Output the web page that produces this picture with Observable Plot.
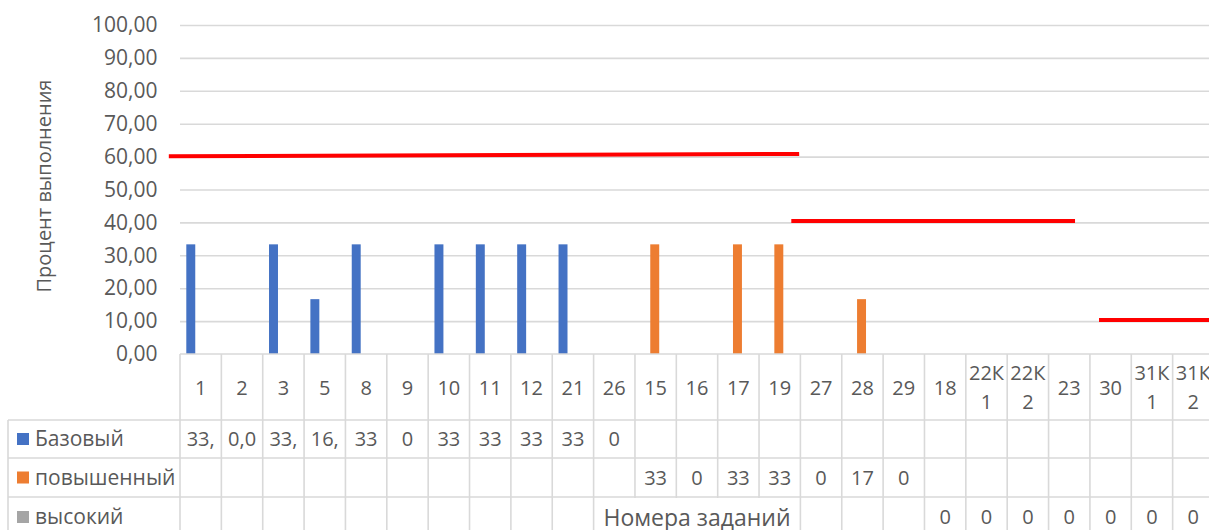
<!DOCTYPE html>
<html>
<head>
<meta charset="utf-8">
<script src="https://cdn.jsdelivr.net/npm/d3@7"></script>
<script src="https://cdn.jsdelivr.net/npm/@observablehq/plot@0.6"></script>
<style>
  html, body { margin: 0; padding: 0; overflow: hidden; background: #fff; }
  #chart svg { max-width: none !important; display: block; }
</style>
</head>
<body>
<div id="chart"></div>
<script>
// ---------- data ----------
const categories = ["1","2","3","5","8","9","10","11","12","21","26","15","16","17","19","27","28","29","18","22К1","22К2","23","30","31К1","31К2"];

const seriesNames = ["Базовый", "повышенный", "высокий"];
const seriesColors = ["#4472C4", "#ED7D31", "#A5A5A5"];

const baseCats   = ["1","2","3","5","8","9","10","11","12","21","26"];
const baseValues = [33.33, 0, 33.33, 16.67, 33.33, 0, 33.33, 33.33, 33.33, 33.33, 0];
const baseLabels = ["33,", "0,0", "33,", "16,", "33", "0", "33", "33", "33", "33", "0"];

const advCats   = ["15","16","17","19","27","28","29"];
const advValues = [33.33, 0, 33.33, 33.33, 0, 16.67, 0];
const advLabels = ["33", "0", "33", "33", "0", "17", "0"];

const highCats   = ["18","22К1","22К2","23","30","31К1","31К2"];
const highValues = [0, 0, 0, 0, 0, 0, 0];
const highLabels = ["0", "0", "0", "0", "0", "0", "0"];

const yTicks = [0, 10, 20, 30, 40, 50, 60, 70, 80, 90, 100];

// red threshold segments: start/end category with fraction of band, start/end value
const thresholdFrom     = ["1", "19", "30"];
const thresholdFromFrac = [-0.27, 0.78, 0.22];
const thresholdTo       = ["19", "23", "31К2"];
const thresholdToFrac   = [0.97, 0.64, 1.0];
const thresholdStart    = [60.1, 40.4, 10.3];
const thresholdEnd      = [60.8, 40.4, 10.3];

const yTitle = "Процент выполнения";
const xTitle = "Номера заданий";

// ---------- layout ----------
const W = 1214, H = 530, ML = 180, MT = 25, MB = 176;
const textColor = "#595959", gridColor = "#d9d9d9";
const font = "'Open Sans', 'Noto Sans', sans-serif";

const seriesRows = [
  {cats: baseCats, values: baseValues, labels: baseLabels},
  {cats: advCats, values: advValues, labels: advLabels},
  {cats: highCats, values: highValues, labels: highLabels}
];

const barData = seriesRows.map(r => r.cats.map((c, i) => ({cat: c, value: r.values[i]})));

const thresholds = thresholdFrom.map((f, i) => ({
  from: f, fromFrac: thresholdFromFrac[i], to: thresholdTo[i], toFrac: thresholdToFrac[i],
  start: thresholdStart[i], end: thresholdEnd[i]
}));

function wrapLabel(s) { return s.length > 3 ? [s.slice(0, 3), s.slice(3)] : [s]; }

function thresholdMark(index, scales) {
  const x = scales.x, y = scales.y, bw = x.bandwidth();
  const g = d3.create("svg:g");
  for (const t of thresholds) {
    g.append("line")
      .attr("x1", x(t.from) + t.fromFrac * bw).attr("x2", x(t.to) + t.toFrac * bw)
      .attr("y1", y(t.start)).attr("y2", y(t.end))
      .attr("stroke", "#FF0000").attr("stroke-width", 4);
  }
  return g.node();
}

function tableMark(index, scales) {
  const x = scales.x, y = scales.y, bw = x.bandwidth();
  const y0 = y(0);
  const x0 = x(categories[0]);
  const xEnd = x(categories[categories.length - 1]) + bw;
  const leftEdge = 8;
  const rowLines = [y0 + 66, y0 + 104, y0 + 143];
  const rowMid = [y0 + 85, y0 + 123.5, y0 + 163];
  const g = d3.create("svg:g").attr("font-family", font).attr("font-size", 20)
    .attr("fill", textColor).attr("text-anchor", "middle");
  const lines = g.append("g").attr("stroke", gridColor).attr("stroke-width", 1.6);
  // top line (axis)
  lines.append("line").attr("x1", x0).attr("x2", xEnd).attr("y1", y0).attr("y2", y0);
  for (const ry of rowLines) lines.append("line").attr("x1", leftEdge).attr("x2", xEnd).attr("y1", ry).attr("y2", ry);
  for (const c of categories) lines.append("line").attr("x1", x(c)).attr("x2", x(c)).attr("y1", y0).attr("y2", H);
  lines.append("line").attr("x1", xEnd).attr("x2", xEnd).attr("y1", y0).attr("y2", H);
  lines.append("line").attr("x1", leftEdge).attr("x2", leftEdge).attr("y1", rowLines[0]).attr("y2", H);

  // category labels
  for (const c of categories) {
    const parts = wrapLabel(c);
    const cx = x(c) + bw / 2;
    if (parts.length === 1) {
      g.append("text").attr("x", cx).attr("y", y0 + 34).attr("dy", "0.35em").text(parts[0]);
    } else {
      g.append("text").attr("x", cx).attr("y", y0 + 19).attr("dy", "0.35em").text(parts[0]);
      g.append("text").attr("x", cx).attr("y", y0 + 48).attr("dy", "0.35em").text(parts[1]);
    }
  }
  // series rows
  seriesRows.forEach((r, k) => {
    g.append("rect").attr("x", 17).attr("y", rowMid[k] - 6).attr("width", 12).attr("height", 12).attr("fill", seriesColors[k]);
    g.append("text").attr("x", 35).attr("y", rowMid[k]).attr("dy", "0.35em").attr("text-anchor", "start")
      .attr("font-size", 21).text(seriesNames[k]);
    r.cats.forEach((c, i) => {
      g.append("text").attr("x", x(c) + bw / 2).attr("y", rowMid[k]).attr("dy", "0.35em").text(r.labels[i]);
    });
  });
  // x axis title with white box
  const cx = (x0 + xEnd) / 2;
  g.append("rect").attr("x", cx - 99).attr("y", rowLines[2] + 1).attr("width", 198).attr("height", H - rowLines[2]).attr("fill", "#fff");
  g.append("text").attr("x", cx).attr("y", y0 + 164).attr("dy", "0.35em").attr("font-size", 23).text(xTitle);
  return g.node();
}

const chart = Plot.plot({
  width: W, height: H,
  marginLeft: ML, marginRight: 0, marginTop: MT, marginBottom: MB,
  style: {fontFamily: font, background: "#fff", color: textColor, maxWidth: "none", overflow: "visible"},
  x: {domain: categories, padding: 0, round: false, axis: null},
  y: {domain: [0, 100], axis: null},
  marks: [
    Plot.ruleY(yTicks.filter(d => d > 0), {stroke: gridColor, strokeWidth: 1.6, strokeOpacity: 1}),
    Plot.text(yTicks, {
      y: d => d, text: d => d3.format(".2f")(d).replace(".", ","),
      frameAnchor: "left", textAnchor: "end", dx: -23, fontSize: 21, fill: textColor
    }),
    Plot.text([yTitle], {frameAnchor: "left", textAnchor: "middle", rotate: -90, dx: -136, dy: -4, fontSize: 20, fill: textColor}),
    ...barData.map((d, k) => Plot.barY(d, {
      x: "cat", y: "value", fill: seriesColors[k],
      insetLeft: [6.3, 15.3, 24.3][k], insetRight: [26.1, 17.1, 8.1][k]
    })),
    thresholdMark,
    tableMark
  ]
});
document.getElementById("chart").append(chart);
</script>
</body>
</html>
